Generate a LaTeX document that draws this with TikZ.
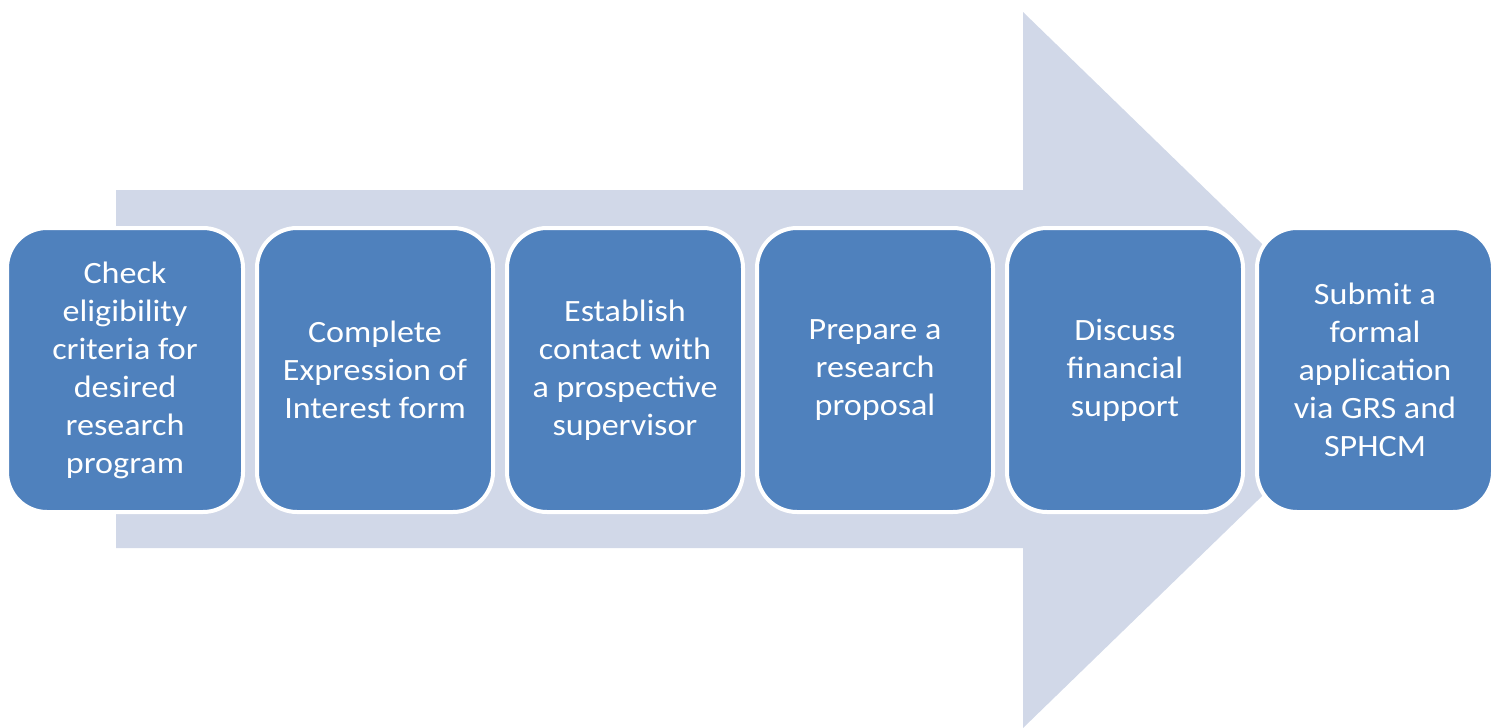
\documentclass[tikz,border=0pt]{standalone}
\usepackage{fontspec}
\setmainfont{Carlito}[FakeStretch=1.1]
\definecolor{arrowfill}{HTML}{D1D8E8}
\definecolor{boxfill}{HTML}{4F81BD}
\begin{document}
\begin{tikzpicture}[x=1pt,y=-1pt,
  stepbox/.style={draw=white, line width=4pt, fill=boxfill, text=white,
    rounded corners=40pt, minimum width=236pt, minimum height=284pt,
    align=center, inner sep=0pt,
    font=\fontsize{31}{38}\selectfont}]
\useasboundingbox (0,0) rectangle (1494,728);
\fill[arrowfill] (116,190) -- (1023,190) -- (1023,12) -- (1392,370) -- (1023,728) -- (1023,548) -- (116,548) -- cycle;
\node[stepbox] (s1) at (125,370) {Check\\eligibility\\criteria for\\desired\\research\\program};
\node[stepbox] (s2) at (375,370) {Complete\\Expression of\\Interest form};
\node[stepbox] (s3) at (625,370) {Establish\\contact with\\a prospective\\supervisor};
\node[stepbox] (s4) at (875,370) {Prepare a\\research\\proposal};
\node[stepbox] (s5) at (1125,370) {Discuss\\financial\\support};
\node[stepbox] (s6) at (1375,370) {Submit a\\formal\\application\\via GRS and\\SPHCM};
\end{tikzpicture}
\end{document}
